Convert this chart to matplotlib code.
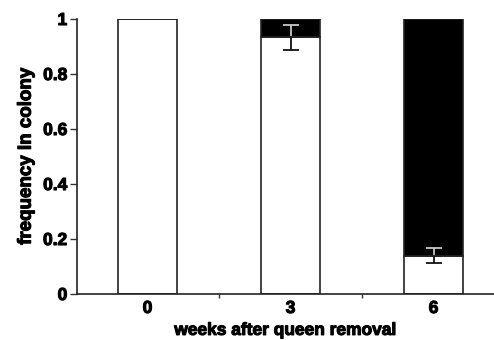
import matplotlib
matplotlib.use("Agg")
import matplotlib.pyplot as plt
import matplotlib.patheffects as pe

weeks = ["0", "3", "6"]
white_frac = [1.0, 0.933, 0.14]
white_err = [0.0, 0.045, 0.029]
yticks = [0, 0.2, 0.4, 0.6, 0.8, 1.0]
ytick_labels = ["0", "0.2", "0.4", "0.6", "0.8", "1"]

plt.rcParams['font.family'] = ['Liberation Sans', 'DejaVu Sans']
plt.rcParams['font.weight'] = 'bold'

fig = plt.figure(figsize=(4.94, 3.4), dpi=100)
ax = fig.add_axes([77/494, 1-294/340, 1-77/494, 275/340])

x = list(range(len(weeks)))
black_frac = [1 - w for w in white_frac]
ax.bar(x, white_frac, width=0.41, color='white', edgecolor='#222222', linewidth=1.2, zorder=2)
ax.bar(x, black_frac, bottom=white_frac, width=0.41, color='black', edgecolor='#222222', linewidth=1.2, zorder=2)

for xi, w, e in zip(x, white_frac, white_err):
    if e <= 0:
        continue
    ax.errorbar([xi], [w], yerr=[[0], [e]], fmt='none', ecolor='#c8c8c8', capsize=6, elinewidth=1.3, capthick=1.3, zorder=3)
    ax.errorbar([xi], [w], yerr=[[e], [0]], fmt='none', ecolor='#111111', capsize=6, elinewidth=1.3, capthick=1.3, zorder=3)

ax.set_xlim(-0.493, 2.423)
ax.set_ylim(0, 1)
ax.set_yticks(yticks)
ax.set_yticklabels(ytick_labels)
ax.set_xticks(x)
ax.set_xticklabels(weeks)
ax.set_xticks([0.5, 1.5], minor=True)
ax.tick_params(axis='x', which='major', length=0, pad=5, labelsize=12.5)
ax.tick_params(axis='x', which='minor', length=3, width=1, direction='out', color='#333333')
ax.tick_params(axis='y', length=5, width=1, direction='out', labelsize=12.5, pad=2, color='#333333')
heavy = [pe.withStroke(linewidth=0.8, foreground='black')]
for lab in ax.get_xticklabels() + ax.get_yticklabels():
    lab.set_fontweight('bold')
    lab.set_path_effects(heavy)

for s in ['top', 'right']:
    ax.spines[s].set_visible(False)
for s in ['left', 'bottom']:
    ax.spines[s].set_linewidth(1.2)
    ax.spines[s].set_color('#222222')

ax.set_xlabel("weeks after queen removal", fontsize=12.5, fontweight='bold', labelpad=5, path_effects=heavy)
ax.set_ylabel("frequency In colony", fontsize=13.5, fontweight='bold', labelpad=6, path_effects=heavy)

fig.savefig("out.png", dpi=100)
